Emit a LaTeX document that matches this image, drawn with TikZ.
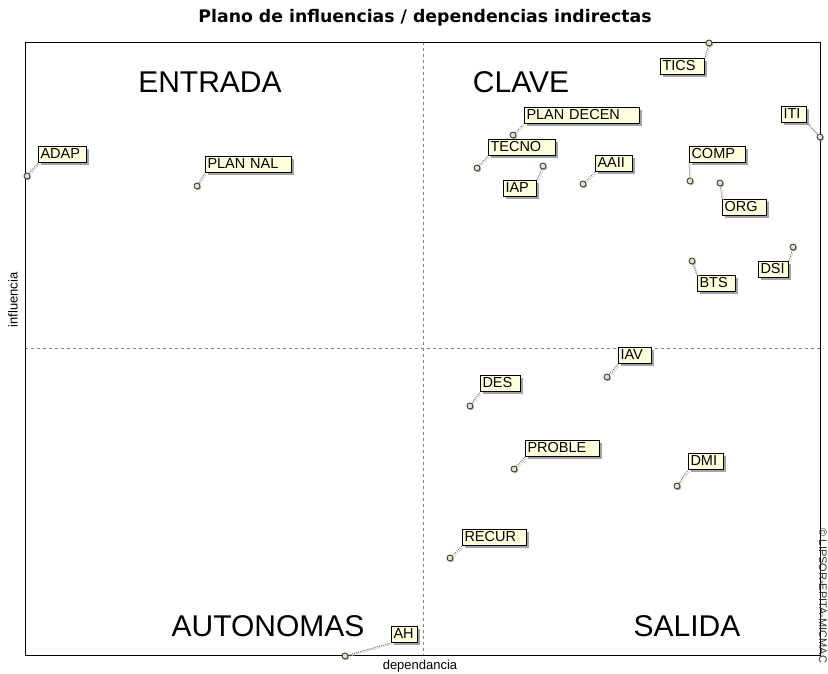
\documentclass[tikz,border=0pt]{standalone}
\usepackage{fontspec}
\setmainfont{Liberation Sans}
\newfontfamily\titlefont{DejaVu Sans}
\usetikzlibrary{shadows}
\definecolor{lblfill}{RGB}{255,255,222}
\definecolor{markfill}{RGB}{228,228,196}
\definecolor{leadgray}{RGB}{120,120,120}

\begin{document}
\begin{tikzpicture}[x=1pt, y=-1pt,
  lblbox/.style={draw=black, fill=lblfill, line width=1pt, inner xsep=2pt, inner ysep=2pt, align=left,
    text height=10pt, text depth=2pt, font=\fontsize{14.5}{14.5}\selectfont,
    drop shadow={shadow xshift=2.5pt, shadow yshift=-2.5pt, fill=gray!90, opacity=0.8}},
  ptmark/.style={circle, draw=black!75, fill=markfill, line width=0.9pt, inner sep=0pt, minimum size=6pt,
    drop shadow={shadow xshift=1.2pt, shadow yshift=-1.2pt, fill=gray, opacity=0.6}},
  lead/.style={draw=leadgray, densely dotted, line width=1pt},
  leadshade/.style={draw=gray!45, densely dotted, line width=1pt, transform canvas={xshift=1.5pt, yshift=-1pt}},
  quad/.style={font=\fontsize{30}{30}\selectfont},
  axislbl/.style={font=\fontsize{13}{13}\selectfont}]
\useasboundingbox (0,0) rectangle (828,673);

% Title
\node[font=\titlefont\bfseries\fontsize{17.3}{17.3}\selectfont] (title) at (425,18) {Plano de influencias / dependencias indirectas};

% Quadrant lines and frame
\draw[gray, dashed, line width=0.6pt] (423,42) -- (423,655);
\draw[gray, dashed, line width=0.6pt] (25,348) -- (820,348);
\draw[line width=1pt] (25,42) rectangle (820,655);

% Quadrant names
\node[quad] (entrada) at (210,82) {ENTRADA};
\node[quad] (clave) at (521,82) {CLAVE};
\node[quad] (autonomas) at (268,626) {AUTONOMAS};
\node[quad] (salida) at (687,626) {SALIDA};

% Axis labels
\node[axislbl, rotate=90] (ylbl) at (13,300) {influencia};
\node[axislbl] (xlbl) at (420,666) {dependancia};
\node[font=\fontsize{11}{11}\selectfont, text=black!80, rotate=-90] (copy) at (823,596) {© LIPSOR-EPITA-MICMAC};

% Variables: marker, label box, lead
\foreach \n/\txt/\mx/\my/\anc/\bx/\by/\w in {
  ADAP/ADAP/27/176/south west/38/163/44,
  PNAL/PLAN NAL/197/186/south west/205/173/82,
  TICS/TICS/709/43/north east/705/58/40,
  PDEC/PLAN DECEN/513/135/south west/524/124/111,
  TECNO/TECNO/477/168/south west/488/156/63,
  ITI/ITI/820/137/south east/807/123/21,
  IAP/IAP/543/166/north east/537/180/29,
  AAII/AAII/583/184/south west/595/172/33,
  COMP/COMP/690/181/south west/689/163/52,
  ORG/ORG/720/183/north west/722/199/40,
  BTS/BTS/692/261/north west/697/275/34,
  DSI/DSI/793/247/north east/789/261/26,
  IAV/IAV/607/377/south west/618/364/29,
  DES/DES/470/406/south west/480/392/36,
  PROBLE/PROBLE/514/469/south west/525/457/70,
  DMI/DMI/677/486/south west/688/470/31,
  RECUR/RECUR/450/558/south west/462/546/60,
  AH/AH/345/656/south west/391/643/22} {
  \node[ptmark] (m\n) at (\mx,\my) {};
  \node[lblbox, anchor=\anc, text width=\w pt] (b\n) at (\bx,\by) {\txt};
  \draw[leadshade] (m\n) -- (b\n.\anc);
  \draw[lead] (m\n) -- (b\n.\anc);
}
\end{tikzpicture}
\end{document}
